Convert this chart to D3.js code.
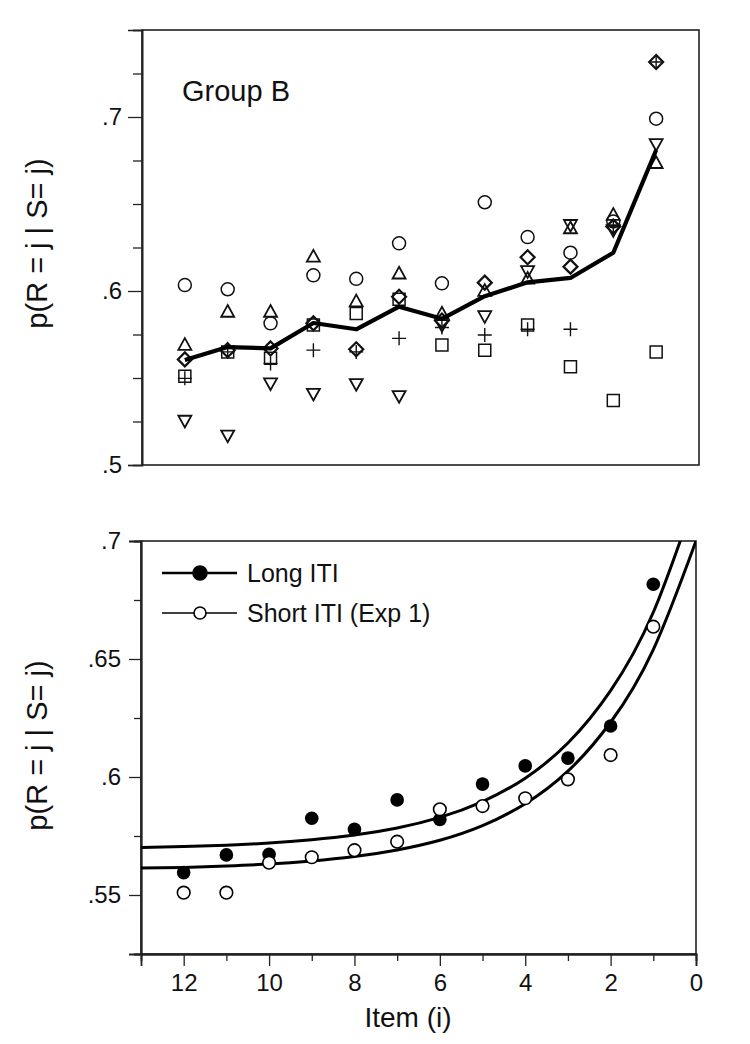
<!DOCTYPE html>
<html>
<head>
<meta charset="utf-8">
<script src="https://cdn.jsdelivr.net/npm/d3@7"></script>
<style>
  body { margin: 0; background: #fff; }
  svg text { font-family: "Liberation Sans", Arial, Helvetica, sans-serif; fill: #111; }
</style>
</head>
<body>
<svg id="chart" width="750" height="1044"></svg>
<script>
// ---------- DATA ----------
const items = [12, 11, 10, 9, 8, 7, 6, 5, 4, 3, 2, 1];

// Top panel (Group B): group mean and six individual series
const groupBMean    = [0.5603, 0.5678, 0.5670, 0.5816, 0.5780, 0.5910, 0.5840, 0.5970, 0.6050, 0.6075, 0.6220, 0.6810];
const circleSeries  = [0.6034, 0.6010, 0.5814, 0.6090, 0.6070, 0.6274, 0.6044, 0.6510, 0.6310, 0.6220, 0.6400, 0.6990];
const triUpSeries   = [0.5690, 0.5880, 0.5880, 0.6197, 0.5940, 0.6100, 0.5870, 0.6000, 0.6070, 0.6360, 0.6437, 0.6735];
const triDownSeries = [0.5255, 0.5170, 0.5470, 0.5410, 0.5466, 0.5397, 0.5805, 0.5856, 0.6115, 0.6380, 0.6350, 0.6845];
const diamondSeries = [0.5607, 0.5660, 0.5670, 0.5814, 0.5665, 0.5967, 0.5830, 0.6048, 0.6194, 0.6140, 0.6370, 0.7316];
const squareSeries  = [0.5510, 0.5650, 0.5613, 0.5805, 0.5870, 0.5952, 0.5690, 0.5660, 0.5805, 0.5565, 0.5370, 0.5650];
const plusSeries    = [0.5498, 0.5650, 0.5584, 0.5660, 0.5650, 0.5728, 0.5790, 0.5747, 0.5780, 0.5780, 0.6370, 0.7316];

// Bottom panel
const longITI  = [0.5595, 0.5670, 0.5672, 0.5825, 0.5778, 0.5903, 0.5820, 0.5970, 0.6047, 0.6080, 0.6216, 0.6817];
const shortITI = [0.5510, 0.5510, 0.5637, 0.5660, 0.5690, 0.5726, 0.5863, 0.5877, 0.5910, 0.5990, 0.6093, 0.6637];

// Fitted curves
const curveItems = [13, 12, 11, 10, 9, 8, 7, 6, 5, 4, 3, 2, 1, 0];
const longFit    = [0.5701, 0.5705, 0.5711, 0.5720, 0.5734, 0.5754, 0.5784, 0.5829, 0.5896, 0.5995, 0.6144, 0.6366, 0.6698, 0.7193];
const shortFit   = [0.5614, 0.5617, 0.5623, 0.5631, 0.5644, 0.5663, 0.5691, 0.5732, 0.5794, 0.5887, 0.6025, 0.6232, 0.6540, 0.7000];

// Tick values
const topYMajor = [0.5, 0.6, 0.7];
const topYMinor = [0.525, 0.55, 0.575, 0.625, 0.65, 0.675, 0.725, 0.75];
const botYMajor = [0.55, 0.6, 0.65, 0.7];
const botYMinor = [0.525, 0.575, 0.625, 0.675];
const botXMajor = [12, 10, 8, 6, 4, 2, 0];
const botXMinor = [11, 9, 7, 5, 3, 1];

const legendLabels = ["Long ITI", "Short ITI (Exp 1)"];
const yLabel = "p(R = j | S= j)";
const xLabel = "Item (i)";
const panelTitle = "Group B";

// ---------- LAYOUT ----------
const svg = d3.select("#chart");
const fmt = v => String(+v.toFixed(3)).replace(/^0/, "");

const boxTop = { left: 142, right: 699, top: 30, bottom: 465 };
const boxBot = { left: 141, right: 696, top: 541, bottom: 954 };

const xTop = d3.scaleLinear().domain([13, 0]).range([boxTop.left, boxTop.right]);
const yTop = d3.scaleLinear().domain([0.5, 0.75]).range([boxTop.bottom, boxTop.top]);
const xBot = d3.scaleLinear().domain([13, 0]).range([boxBot.left, boxBot.right]);
const yBot = d3.scaleLinear().domain([0.525, 0.7]).range([boxBot.bottom, boxBot.top]);

// ---------- TOP PANEL ----------
const gTop = svg.append("g");

gTop.append("rect")
  .attr("x", boxTop.left).attr("y", boxTop.top)
  .attr("width", boxTop.right - boxTop.left).attr("height", boxTop.bottom - boxTop.top)
  .attr("fill", "none").attr("stroke", "#222").attr("stroke-width", 1.6);

const topAxisMaj = gTop.append("g").attr("transform", `translate(${boxTop.left},0)`)
  .call(d3.axisLeft(yTop).tickValues(topYMajor).tickSize(14).tickFormat(fmt).tickPadding(6));
const topAxisMin = gTop.append("g").attr("transform", `translate(${boxTop.left},0)`)
  .call(d3.axisLeft(yTop).tickValues(topYMinor).tickSize(9).tickFormat(""));
[topAxisMaj, topAxisMin].forEach(a => {
  a.select(".domain").attr("stroke", "#222").attr("stroke-width", 1.6);
  a.selectAll(".tick line").attr("stroke", "#222").attr("stroke-width", 1.3);
});
topAxisMaj.selectAll(".tick text").attr("font-size", 24).attr("fill", "#111")
  .attr("font-family", '"Liberation Sans", Arial, sans-serif');

gTop.append("text")
  .attr("transform", `translate(47,${(boxTop.top + boxTop.bottom) / 2 - 4}) rotate(-90)`)
  .attr("text-anchor", "middle").attr("font-size", 29)
  .text(yLabel);

gTop.append("text").attr("x", 182).attr("y", 101).attr("font-size", 29).text(panelTitle);

const shapes = {
  circle:  r => `M${r},0A${r},${r} 0 1,1 ${-r},0A${r},${r} 0 1,1 ${r},0Z`,
  triUp:   r => `M0,${-r * 1.05}L${r},${r * 0.75}L${-r},${r * 0.75}Z`,
  triDown: r => `M0,${r * 1.05}L${r},${-r * 0.75}L${-r},${-r * 0.75}Z`,
  diamond: r => `M0,${-r}L${r},0L0,${r}L${-r},0Z`,
  square:  r => `M${-r},${-r}H${r}V${r}H${-r}Z`,
  plus:    r => `M${-r},0H${r}M0,${-r}V${r}`
};

const topSeries = [
  { vals: circleSeries,  shape: "circle",  r: 6.5, sw: 1.5 },
  { vals: triUpSeries,   shape: "triUp",   r: 6.5, sw: 1.8 },
  { vals: triDownSeries, shape: "triDown", r: 6.5, sw: 1.8 },
  { vals: squareSeries,  shape: "square",  r: 6.0, sw: 1.5 },
  { vals: diamondSeries, shape: "diamond", r: 7.0, sw: 2.2 },
  { vals: plusSeries,    shape: "plus",    r: 7.0, sw: 1.4 }
];

topSeries.forEach(s => {
  gTop.append("g").selectAll("path")
    .data(items.map((it, i) => ({ it, v: s.vals[i] })))
    .join("path")
    .attr("transform", d => `translate(${xTop(d.it)},${yTop(d.v)})`)
    .attr("d", shapes[s.shape](s.r))
    .attr("fill", "none").attr("stroke", "#111").attr("stroke-width", s.sw);
});

gTop.append("path")
  .datum(items.map((it, i) => ({ it, v: groupBMean[i] })))
  .attr("fill", "none").attr("stroke", "#000").attr("stroke-width", 4.2)
  .attr("stroke-linejoin", "round")
  .attr("d", d3.line().x(d => xTop(d.it)).y(d => yTop(d.v)));

// ---------- BOTTOM PANEL ----------
const gBot = svg.append("g");

svg.append("defs").append("clipPath").attr("id", "clipBot")
  .append("rect").attr("x", boxBot.left).attr("y", boxBot.top)
  .attr("width", boxBot.right - boxBot.left).attr("height", boxBot.bottom - boxBot.top);

gBot.append("rect")
  .attr("x", boxBot.left).attr("y", boxBot.top)
  .attr("width", boxBot.right - boxBot.left).attr("height", boxBot.bottom - boxBot.top)
  .attr("fill", "none").attr("stroke", "#222").attr("stroke-width", 1.6);

const botYMaj = gBot.append("g").attr("transform", `translate(${boxBot.left},0)`)
  .call(d3.axisLeft(yBot).tickValues(botYMajor).tickSize(12).tickFormat(fmt).tickPadding(8));
const botYMin = gBot.append("g").attr("transform", `translate(${boxBot.left},0)`)
  .call(d3.axisLeft(yBot).tickValues(botYMinor).tickSize(7).tickFormat(""));
const botXMaj = gBot.append("g").attr("transform", `translate(0,${boxBot.bottom})`)
  .call(d3.axisBottom(xBot).tickValues(botXMajor).tickSize(12).tickFormat(d3.format("d")).tickPadding(8));
const botXMin = gBot.append("g").attr("transform", `translate(0,${boxBot.bottom})`)
  .call(d3.axisBottom(xBot).tickValues(botXMinor).tickSize(7).tickFormat(""));
[botYMaj, botYMin, botXMaj, botXMin].forEach(a => {
  a.select(".domain").attr("stroke", "#222").attr("stroke-width", 1.8);
  a.selectAll(".tick line").attr("stroke", "#222").attr("stroke-width", 1.3);
});
[botYMaj, botXMaj].forEach(a => a.selectAll(".tick text").attr("font-size", 24).attr("fill", "#111")
  .attr("font-family", '"Liberation Sans", Arial, sans-serif'));

gBot.append("text")
  .attr("transform", `translate(47,${(boxBot.top + boxBot.bottom) / 2 - 2}) rotate(-90)`)
  .attr("text-anchor", "middle").attr("font-size", 29)
  .text(yLabel);

gBot.append("text").attr("x", 408).attr("y", 1027).attr("text-anchor", "middle")
  .attr("font-size", 28).text(xLabel);

const fitLine = d3.line().curve(d3.curveNatural).x(d => xBot(d.it)).y(d => yBot(d.v));
[longFit, shortFit].forEach(vals => {
  gBot.append("path")
    .datum(curveItems.map((it, i) => ({ it, v: vals[i] })))
    .attr("clip-path", "url(#clipBot)")
    .attr("fill", "none").attr("stroke", "#000").attr("stroke-width", 3)
    .attr("d", fitLine);
});

gBot.append("g").selectAll("circle")
  .data(items.map((it, i) => ({ it, v: longITI[i] })))
  .join("circle")
  .attr("cx", d => xBot(d.it)).attr("cy", d => yBot(d.v)).attr("r", 6.8)
  .attr("fill", "#000");
gBot.append("g").selectAll("circle")
  .data(items.map((it, i) => ({ it, v: shortITI[i] })))
  .join("circle")
  .attr("cx", d => xBot(d.it)).attr("cy", d => yBot(d.v)).attr("r", 6.3)
  .attr("fill", "#fff").attr("stroke", "#000").attr("stroke-width", 1.6);

const legend = gBot.append("g");
const legRows = [
  { label: legendLabels[0], y: 573, filled: true, sw: 2.6, r: 7 },
  { label: legendLabels[1], y: 613, filled: false, sw: 1.6, r: 6 }
];
legRows.forEach(row => {
  legend.append("line").attr("x1", 162).attr("x2", 237).attr("y1", row.y).attr("y2", row.y)
    .attr("stroke", "#000").attr("stroke-width", row.sw);
  legend.append("circle").attr("cx", 200).attr("cy", row.y).attr("r", row.r)
    .attr("fill", row.filled ? "#000" : "#fff").attr("stroke", "#000").attr("stroke-width", 1.6);
  legend.append("text").attr("x", 247).attr("y", row.y + 9).attr("font-size", 25).text(row.label);
});
</script>
</body>
</html>
